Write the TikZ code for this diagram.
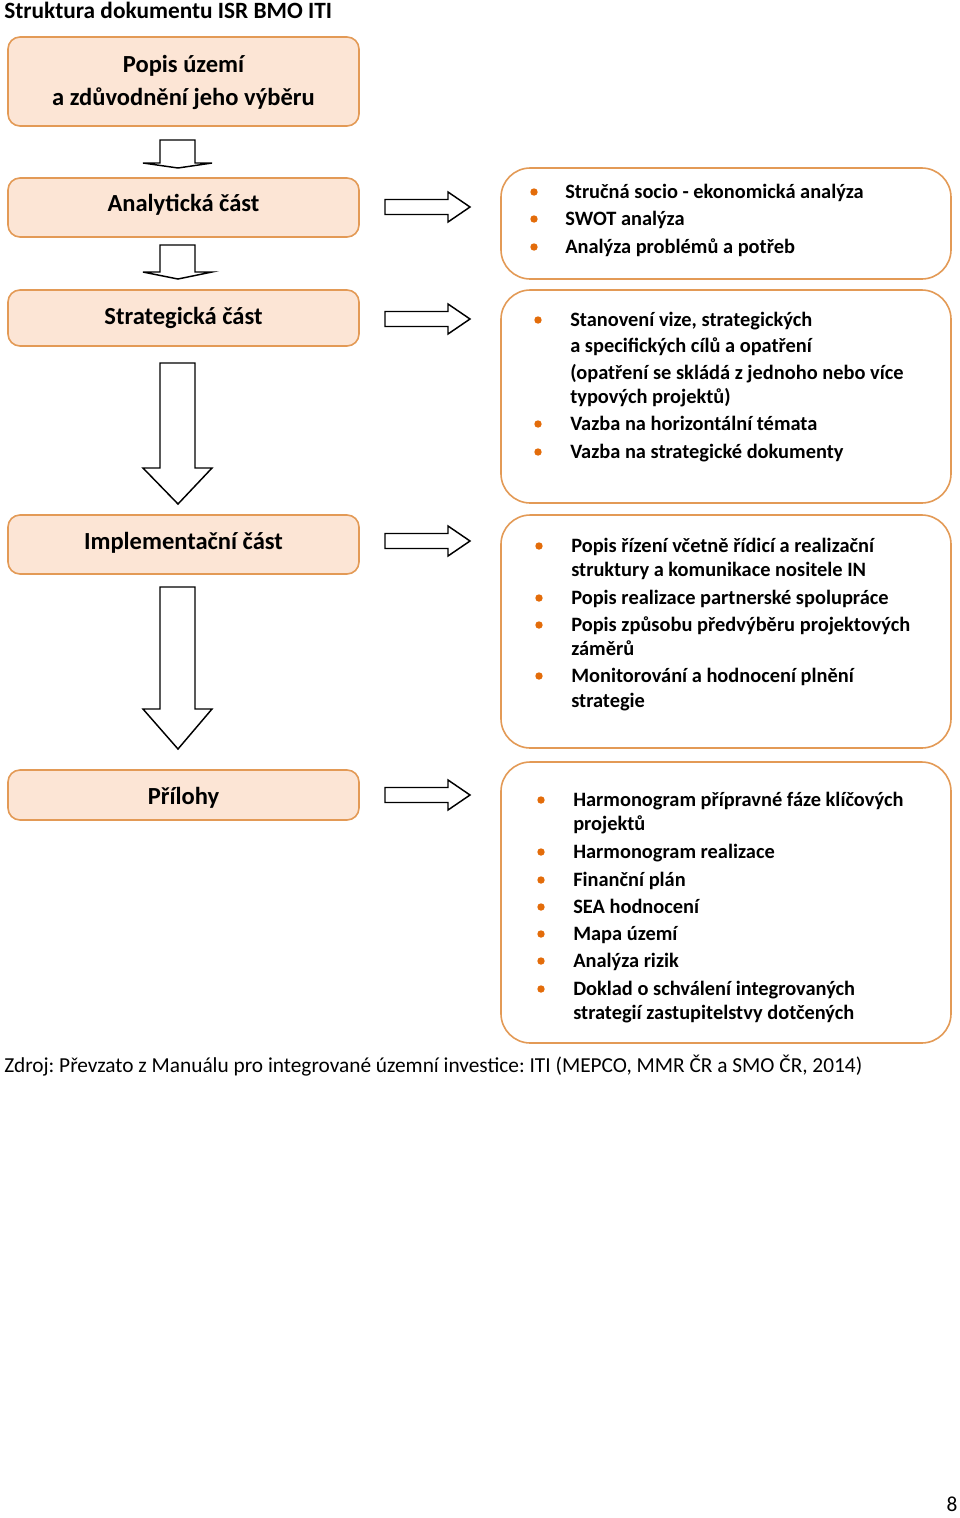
\documentclass[tikz,border=0pt]{standalone}
\usepackage{fontspec}
\setmainfont{Carlito}
\frenchspacing
\definecolor{boxfill}{HTML}{FCE5D5}
\definecolor{boxline}{HTML}{E39A56}
\definecolor{bulcol}{HTML}{E36C0A}
\newcommand\mydownarrow[3]{% top, head base, tip
  \draw[arrline] (160,#1) -- (195,#1) -- (195,#2) -- (212,#2) -- (178,#3) -- (143,#2) -- (160,#2) -- cycle;}
\newcommand\myrightarrow[1]{% center y
  \draw[arrline] (385,#1-7.5) -- (448,#1-7.5) -- (448,#1-15) -- (470,#1) -- (448,#1+15) -- (448,#1+7.5) -- (385,#1+7.5) -- cycle;}
\begin{document}
\begin{tikzpicture}[x=0.75pt,y=-0.75pt,
  lbox/.style={draw=boxline, fill=boxfill, line width=1.2pt, rounded corners=9pt,
    minimum width=263.25pt, inner sep=0pt},
  ltext/.style={anchor=mid, inner sep=0pt, align=center, font=\bfseries\fontsize{18.4}{24.75}\selectfont},
  rbox/.style={draw=boxline, fill=white, line width=1.2pt, rounded corners=22pt,
    minimum width=337.5pt, inner sep=0pt},
  btext/.style={anchor=mid west, inner sep=0pt, font=\bfseries\fontsize{15.3}{18}\selectfont},
  arrline/.style={draw=black, fill=white, line width=1.1pt, line join=miter},
  bdot/.style={fill=bulcol}]
\useasboundingbox (0,0) rectangle (960,1518);
\fill[white] (0,0) rectangle (960,1518);

\node[anchor=base west, inner sep=0pt, font=\bfseries\fontsize{17.5}{20}\selectfont] (title) at (4,18) {Struktura dokumentu ISR BMO ITI};

% left boxes
\node[lbox, minimum height=66.75pt] (b1) at (183.5,81.5) {};
\node[ltext] (t1a) at (183.5,69) {Popis území};
\node[ltext] (t1b) at (183.5,102) {a zdůvodnění jeho výběru};
\node[lbox, minimum height=44.25pt] (b2) at (183.5,207.5) {};
\node[ltext] (t2) at (183.5,208) {Analytická část};
\node[lbox, minimum height=42pt] (b3) at (183.5,318) {};
\node[ltext] (t3) at (183.5,321) {Strategická část};
\node[lbox, minimum height=44.25pt] (b4) at (183.5,544.5) {};
\node[ltext] (t4) at (183.5,546) {Implementační část};
\node[lbox, minimum height=37.5pt] (b5) at (183.5,795) {};
\node[ltext] (t5) at (183.5,801) {Přílohy};

% down arrows
\mydownarrow{140}{163}{168}
\mydownarrow{245}{272}{279}
\mydownarrow{363}{468}{504}
\mydownarrow{587}{709}{749}

% right arrows
\myrightarrow{207}
\myrightarrow{319}
\myrightarrow{541}
\myrightarrow{795}

% right boxes
\node[rbox, minimum height=83.25pt] (r1) at (726,223.5) {};
\node[rbox, minimum height=159.75pt] (r2) at (726,396.5) {};
\node[rbox, minimum height=174.75pt] (r3) at (726,631.5) {};
\node[rbox, minimum height=210.75pt] (r4) at (726,902.5) {};

% R1
\foreach \yy in {192,219,247} \fill[bdot] (534,\yy) circle (3.7);
\node[btext] (r1a) at (565,195) {Stručná socio - ekonomická analýza};
\node[btext] (r1b) at (565,222) {SWOT analýza};
\node[btext] (r1c) at (565,250) {Analýza problémů a potřeb};

% R2
\foreach \yy in {320,424,452} \fill[bdot] (538,\yy) circle (3.7);
\node[btext] (r2a) at (570,323) {Stanovení vize, strategických};
\node[btext] (r2b) at (570,349) {a specifických cílů a opatření};
\node[btext] (r2c) at (570,376) {(opatření se skládá z jednoho nebo více};
\node[btext] (r2d) at (570,400) {typových projektů)};
\node[btext] (r2e) at (570,427) {Vazba na horizontální témata};
\node[btext] (r2f) at (570,455) {Vazba na strategické dokumenty};

% R3
\foreach \yy in {546,598,625,676} \fill[bdot] (539,\yy) circle (3.7);
\node[btext] (r3a) at (571,549) {Popis řízení včetně řídicí a realizační};
\node[btext] (r3b) at (571,573) {struktury a komunikace nositele IN};
\node[btext] (r3c) at (571,601) {Popis realizace partnerské spolupráce};
\node[btext] (r3d) at (571,628) {Popis způsobu předvýběru projektových};
\node[btext] (r3e) at (571,652) {záměrů};
\node[btext] (r3f) at (571,679) {Monitorování a hodnocení plnění};
\node[btext] (r3g) at (571,704) {strategie};

% R4
\foreach \yy in {800,852,880,907,934,961,989} \fill[bdot] (541,\yy) circle (3.7);
\node[btext] (r4a) at (573,803) {Harmonogram přípravné fáze klíčových};
\node[btext] (r4b) at (573,827) {projektů};
\node[btext] (r4c) at (573,855) {Harmonogram realizace};
\node[btext] (r4d) at (573,883) {Finanční plán};
\node[btext] (r4e) at (573,910) {SEA hodnocení};
\node[btext] (r4f) at (573,937) {Mapa území};
\node[btext] (r4g) at (573,964) {Analýza rizik};
\node[btext] (r4h) at (573,992) {Doklad o schválení integrovaných};
\node[btext] (r4i) at (573,1016) {strategií zastupitelstvy dotčených};

% footer
\node[anchor=mid west, inner sep=0pt, font=\fontsize{16}{18}\selectfont] (src) at (4,1069) {Zdroj: Převzato z Manuálu pro integrované územní investice: ITI (MEPCO, MMR ČR a SMO ČR, 2014)};
\node[anchor=mid, inner sep=0pt, font=\fontsize{16}{18}\selectfont] (pg) at (952,1508) {8};
\end{tikzpicture}
\end{document}
